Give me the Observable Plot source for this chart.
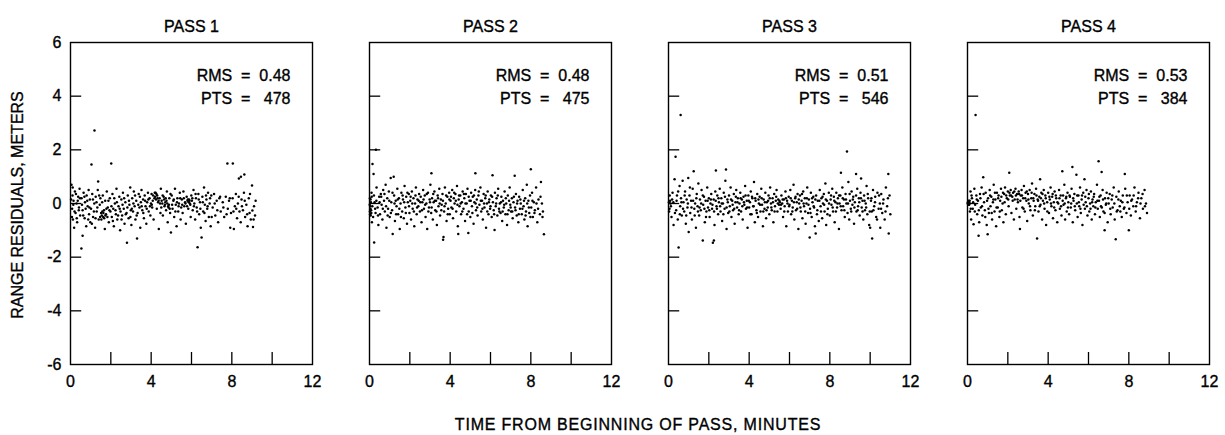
<!DOCTYPE html>
<html>
<head>
<meta charset="utf-8">
<script src="https://cdn.jsdelivr.net/npm/d3@7"></script>
<script src="https://cdn.jsdelivr.net/npm/@observablehq/plot@0.6"></script>
<style>
  html, body { margin: 0; padding: 0; background: #fff; }
  #wrap { position: relative; width: 1225px; height: 435px; font-family: "Liberation Sans", Arial, sans-serif; color: #000; }
  #wrap svg text { stroke: #000; stroke-width: 0.35px; }
  #ylab { position: absolute; left: 18px; top: 205px; transform: translate(-50%, -50%) rotate(-90deg); white-space: nowrap; font-size: 16px; -webkit-text-stroke: 0.35px #000; }
  #xlab { position: absolute; left: 638px; top: 425px; transform: translate(-50%, -50%); white-space: nowrap; font-size: 16px; letter-spacing: 0.8px; -webkit-text-stroke: 0.35px #000; }
</style>
</head>
<body>
<div id="wrap">
  <div id="chart"></div>
  <div id="ylab">RANGE RESIDUALS, METERS</div>
  <div id="xlab">TIME FROM BEGINNING OF PASS, MINUTES</div>
</div>
<script>
// ---- data (time in minutes, residual in meters) ----
const passes = ["PASS 1", "PASS 2", "PASS 3", "PASS 4"];
const rmsValues = ["0.48", "0.48", "0.51", "0.53"];
const ptsValues = ["478", "475", "546", "384"];
const xTickLabels = [0, 4, 8, 12];
const xTickMarks = [2, 4, 6, 8, 10];
const yTickLabels = [-6, -4, -2, 0, 2, 4, 6];
const yTickMarks = [-4, -2, 0, 2, 4];

const pass1 = [
[0.05,0.7],[0.08,-0.2],[0.1,0.3],[0.12,-0.6],[0.15,0.1],[0.18,-0.9],[0.22,0.45],[0.25,-0.35],[0.3,0.0],[0.33,-0.7],[0.38,0.25],[0.42,-0.15],[0.45,0.55],[0.48,-0.45],
[0.54,-1.68],[0.6,-1.2],[0.55,0.2],[0.6,-0.25],[0.65,0.4],[0.7,-0.55],[0.72,0.05],[0.78,-0.85],[0.8,0.3],[0.85,-0.1],[0.9,0.5],[0.92,-0.4],[0.96,0.15],[0.98,-0.7],
[1.04,1.45],[1.19,2.72],[1.37,0.82],[1.02,-0.2],[1.08,0.35],[1.12,-0.5],[1.18,0.0],[1.22,-0.9],[1.25,0.25],[1.3,-0.3],[1.35,0.5],[1.4,-0.6],[1.45,-0.05],[1.48,0.2],
[1.52,-0.35],[1.55,-0.45],[1.58,-0.3],[1.6,0.3],[1.62,-0.5],[1.66,-0.25],[1.7,-0.95],[1.72,0.1],[1.76,-0.4],[1.8,0.45],[1.85,-0.15],[1.9,-0.7],[1.95,0.2],[1.98,-0.3],
[2.02,1.49],[2.05,-0.5],[2.08,0.35],[2.12,-0.2],[2.15,-0.85],[2.2,0.0],[2.25,-0.4],[2.28,0.55],[2.32,-0.6],[2.38,-0.1],[2.42,0.25],[2.46,-1.0],[2.48,-0.3],
[2.52,0.15],[2.56,-0.45],[2.6,0.4],[2.64,-0.2],[2.68,-0.75],[2.72,0.05],[2.8,-1.46],[2.78,-0.35],[2.84,0.3],[2.88,-0.55],[2.92,-0.05],[2.96,0.6],[2.99,-0.25],
[3.02,-0.8],[3.06,0.2],[3.1,-0.3],[3.14,0.45],[3.18,-0.1],[3.22,-0.6],[3.26,0.1],[3.3,-1.3],[3.33,-0.35],[3.38,0.35],[3.42,-0.15],[3.46,-0.9],[3.49,0.05],
[3.52,0.5],[3.56,-0.25],[3.6,0.15],[3.64,-0.55],[3.68,0.3],[3.72,-0.1],[3.76,-0.75],[3.8,0.05],[3.84,0.4],[3.88,-0.3],[3.92,0.2],[3.96,-0.45],[3.99,0.0],
[4.02,0.35],[4.05,-0.15],[4.08,0.1],[4.12,-0.6],[4.18,0.4],[4.2,0.25],[4.24,0.15],[4.28,-0.2],[4.3,0.3],[4.34,0.05],[4.38,-0.95],[4.42,0.2],[4.46,-0.35],[4.48,0.55],
[4.52,0.1],[4.55,0.0],[4.58,-0.45],[4.62,0.25],[4.66,-0.1],[4.7,0.05],[4.74,-0.25],[4.78,0.45],[4.82,-0.7],[4.86,-0.15],[4.9,0.2],[4.94,-0.35],[4.98,-1.08],
[5.02,0.3],[5.06,-0.2],[5.1,0.1],[5.14,-0.5],[5.18,0.55],[5.22,-0.05],[5.26,-0.85],[5.3,0.2],[5.34,-0.3],[5.38,0.0],[5.42,0.4],[5.46,-0.6],[5.49,-0.15],
[5.52,0.15],[5.56,-0.35],[5.6,0.45],[5.64,-0.1],[5.68,0.05],[5.72,-0.75],[5.76,0.25],[5.8,0.1],[5.84,-0.2],[5.88,0.15],[5.92,0.0],[5.96,-0.5],[5.99,0.3],
[6.02,0.1],[6.06,-0.25],[6.1,0.5],[6.14,0.0],[6.18,-0.6],[6.22,0.2],[6.26,-0.15],[6.3,-1.63],[6.34,0.35],[6.38,-0.4],[6.42,0.05],[6.46,-0.9],[6.5,-1.27],
[6.54,0.25],[6.58,-0.3],[6.62,0.6],[6.66,-0.05],[6.7,-0.65],[6.74,0.15],[6.78,-0.2],[6.82,0.4],[6.86,-0.5],[6.9,0.0],[6.95,-0.85],[6.98,0.3],
[7.05,-0.15],[7.12,0.35],[7.18,-0.45],[7.25,0.1],[7.32,-0.7],[7.38,0.2],[7.45,-0.3],
[7.55,0.05],[7.62,-0.5],[7.7,0.25],[7.78,1.49],[7.8,-0.2],[7.86,0.1],[7.92,-0.9],[7.96,-0.35],
[8.05,1.49],[8.04,0.2],[8.1,-0.95],[8.15,-0.1],[8.2,0.35],[8.26,-0.55],[8.3,0.0],[8.35,0.93],[8.38,-0.3],[8.45,1.0],[8.44,-0.7],[8.48,0.15],
[8.55,-0.25],[8.62,1.08],[8.6,0.4],[8.66,-0.5],[8.72,-0.05],[8.78,-0.85],[8.84,0.2],[8.88,-0.35],[8.94,-0.6],[9.0,0.67],[9.02,-0.26],[9.05,-0.88],[9.1,-0.1],[9.15,-0.45],
[0.03,0.15],[0.07,-0.5],[0.11,0.6],[0.14,-0.05],[0.2,-0.3],[0.27,0.35],[0.31,-0.55],[0.36,0.1],[0.41,-0.25],[0.47,0.2],[0.57,-0.05],[0.63,-0.45],[0.69,0.25],[0.75,-0.2],[0.83,0.1],[0.88,-0.6],[0.94,-0.15],
[1.06,-0.75],[1.11,0.15],[1.16,-0.3],[1.24,-0.55],[1.29,0.05],[1.33,-0.15],[1.42,0.3],[1.47,-0.5],[1.53,-0.6],[1.57,0.05],[1.63,-0.35],[1.67,-0.55],[1.73,-0.45],[1.78,-0.2],[1.83,-0.5],[1.88,0.1],[1.93,-0.25],
[2.03,-0.1],[2.1,-0.65],[2.17,0.2],[2.23,-0.25],[2.3,0.05],[2.36,-0.45],[2.44,-0.2],[2.53,-0.6],[2.58,-0.05],[2.66,0.2],[2.74,-0.4],[2.82,-0.15],[2.9,0.1],[2.97,-0.5],
[3.04,-0.2],[3.12,0.0],[3.2,0.3],[3.28,-0.45],[3.36,-0.05],[3.44,0.25],[3.53,-0.1],[3.61,-0.35],[3.7,0.1],[3.78,-0.2],[3.86,0.15],[3.94,-0.1],
[4.03,-0.05],[4.1,0.3],[4.16,0.2],[4.22,0.4],[4.26,0.35],[4.32,0.2],[4.37,0.1],[4.44,0.0],[4.5,-0.15],[4.57,0.3],[4.64,0.15],[4.68,-0.05],[4.72,0.2],[4.76,0.1],[4.8,0.0],[4.84,-0.1],[4.88,-0.05],[4.92,-0.2],[4.96,0.35],
[5.04,-0.05],[5.12,0.15],[5.2,-0.3],[5.28,0.05],[5.36,-0.1],[5.44,0.2],[5.54,-0.05],[5.62,0.2],[5.7,0.0],[5.78,-0.1],[5.82,0.15],[5.86,0.05],[5.9,0.1],[5.94,-0.05],
[6.04,0.2],[6.12,-0.1],[6.2,0.35],[6.28,-0.3],[6.36,0.15],[6.44,-0.2],[6.56,0.05],[6.64,-0.35],[6.72,0.3],[6.8,-0.1],[6.92,0.2],[7.0,-0.5],[7.15,0.0],[7.28,-0.25],[7.42,0.25],[7.58,-0.15],[7.74,-0.4],[7.9,0.2],
[8.08,-0.3],[8.22,-0.2],[8.34,0.25],[8.5,-0.1],[8.64,0.1],[8.76,-0.4],[8.9,0.35],[9.08,-0.6],[9.18,0.1]
];

const pass2 = [
[0.02,-0.3],[0.04,-0.1],[0.05,0.15],[0.06,-0.45],[0.08,-0.25],[0.1,0.4],[0.12,-0.7],[0.15,1.47],[0.2,1.1],[0.23,-1.45],[0.25,0.05],[0.3,-0.35],[0.32,2.0],[0.35,0.6],[0.4,-0.15],[0.44,-0.8],[0.48,0.25],
[0.52,-0.4],[0.56,0.35],[0.6,-0.05],[0.64,-0.6],[0.68,0.5],[0.72,0.1],[0.76,-0.3],[0.8,0.7],[0.84,-0.9],[0.88,0.2],[0.92,-0.2],[0.96,0.45],
[1.0,-0.5],[1.05,0.95],[1.08,0.05],[1.12,-0.25],[1.15,-1.14],[1.2,1.0],[1.22,0.3],[1.26,-0.65],[1.3,0.1],[1.34,-0.1],[1.38,0.55],[1.42,-0.4],[1.46,0.2],
[1.5,-0.95],[1.54,0.0],[1.58,0.4],[1.62,-0.3],[1.66,0.15],[1.7,-0.55],[1.74,0.65],[1.78,-0.15],[1.82,0.25],[1.86,-0.75],[1.9,0.05],[1.95,0.35],[1.98,-0.35],
[2.02,0.1],[2.06,-0.6],[2.1,0.45],[2.14,-0.2],[2.18,0.2],[2.22,-0.85],[2.26,0.0],[2.3,0.6],[2.34,-0.4],[2.38,0.15],[2.42,-0.1],[2.46,0.35],
[2.5,-0.3],[2.54,0.25],[2.58,-0.7],[2.62,0.05],[2.66,0.5],[2.7,-0.2],[2.74,0.3],[2.78,-0.5],[2.82,0.0],[2.86,-0.95],[2.9,0.4],[2.95,-0.15],[2.98,0.15],
[3.02,0.7],[3.07,1.13],[3.06,-0.35],[3.1,0.2],[3.14,-0.6],[3.18,0.05],[3.22,0.45],[3.26,-0.25],[3.3,0.1],[3.34,-0.8],[3.38,0.3],[3.42,-0.1],[3.46,0.55],
[3.5,-0.45],[3.54,0.15],[3.58,-0.05],[3.62,0.35],[3.65,-1.35],[3.67,-1.25],[3.7,-0.3],[3.74,0.6],[3.78,0.0],[3.82,-0.65],[3.86,0.25],[3.9,-0.2],[3.95,0.4],[3.98,-0.4],
[4.02,0.1],[4.06,-0.15],[4.1,0.5],[4.14,-0.55],[4.18,0.2],[4.22,0.0],[4.26,0.35],[4.3,-0.3],[4.34,0.65],[4.38,-0.85],[4.4,-1.14],[4.42,0.15],[4.46,-0.1],
[4.5,0.3],[4.54,-0.4],[4.58,0.05],[4.62,0.45],[4.66,-0.2],[4.7,0.2],[4.74,-0.65],[4.78,0.35],[4.82,0.0],[4.86,0.55],[4.9,-1.1],[4.92,-0.3],[4.96,0.1],
[5.0,-0.5],[5.04,0.4],[5.08,-0.1],[5.12,0.25],[5.16,-0.75],[5.2,0.05],[5.25,1.13],[5.24,0.5],[5.28,-0.25],[5.32,0.15],[5.36,-0.45],[5.4,0.3],[5.45,-0.05],
[5.5,0.6],[5.54,-0.3],[5.58,0.1],[5.62,-0.6],[5.66,0.35],[5.7,-0.15],[5.74,0.2],[5.78,-0.9],[5.82,0.0],[5.86,0.45],[5.9,-0.4],[5.94,0.15],[5.98,-0.2],
[6.02,0.3],[6.06,-0.5],[6.1,1.05],[6.12,0.05],[6.16,-0.25],[6.2,-0.99],[6.22,0.4],[6.26,-0.1],[6.3,0.2],[6.34,-0.45],[6.38,0.55],[6.42,-0.2],[6.46,0.0],
[6.5,-0.35],[6.54,0.25],[6.58,-0.65],[6.62,0.1],[6.66,-0.15],[6.7,0.45],[6.74,-0.4],[6.78,0.0],[6.82,-0.8],[6.86,0.3],[6.9,-0.25],[6.95,0.6],[6.98,-0.05],
[7.02,-0.3],[7.06,0.2],[7.1,-0.55],[7.14,0.05],[7.2,1.03],[7.22,-0.15],[7.26,0.35],[7.3,-0.45],[7.34,0.1],[7.38,-0.7],[7.42,0.25],[7.46,-0.2],
[7.5,0.0],[7.55,-0.4],[7.6,0.5],[7.64,-0.1],[7.68,-0.6],[7.72,0.2],[7.76,-0.3],[7.8,0.7],[7.84,-0.85],[7.88,0.1],[7.92,-0.35],[7.96,0.3],
[8.0,1.28],[8.02,-0.15],[8.06,0.4],[8.1,-0.5],[8.15,0.05],[8.2,-0.25],[8.26,0.6],[8.32,-0.7],[8.38,0.15],[8.45,-0.4],[8.5,0.8],[8.55,0.0],[8.6,-0.3],[8.65,-1.15],
[0.01,-0.05],[0.02,0.2],[0.03,-0.4],[0.05,-0.2],[0.07,0.05],[0.09,-0.35],[0.11,0.25],[0.14,-0.1],[0.18,-0.5],[0.22,0.3],[0.28,-0.2],[0.34,0.1],[0.42,-0.45],[0.5,0.05],[0.58,0.25],[0.66,-0.2],[0.74,0.35],[0.82,-0.1],[0.9,-0.45],[0.98,0.1],
[1.06,-0.35],[1.14,0.4],[1.24,0.0],[1.32,-0.4],[1.4,0.15],[1.48,-0.2],[1.56,-0.5],[1.64,0.3],[1.72,0.05],[1.8,-0.35],[1.88,0.4],[1.96,-0.1],
[2.04,0.25],[2.12,0.0],[2.2,-0.3],[2.28,0.3],[2.36,-0.15],[2.44,0.1],[2.52,0.05],[2.6,-0.25],[2.68,0.15],[2.76,-0.05],[2.84,0.35],[2.92,-0.3],
[3.0,0.05],[3.08,-0.15],[3.16,0.35],[3.24,0.1],[3.32,-0.3],[3.4,0.2],[3.48,0.0],[3.56,-0.25],[3.64,0.1],[3.72,-0.1],[3.8,0.3],[3.88,-0.4],[3.96,0.15],
[4.04,0.25],[4.12,-0.2],[4.2,0.4],[4.28,0.1],[4.36,-0.05],[4.44,0.3],[4.52,0.0],[4.6,-0.3],[4.68,0.35],[4.76,0.0],[4.84,-0.4],[4.92,0.25],
[5.02,0.1],[5.1,-0.35],[5.18,0.3],[5.26,0.0],[5.34,-0.15],[5.42,0.45],[5.52,0.1],[5.6,-0.2],[5.68,0.0],[5.76,0.3],[5.84,-0.3],[5.92,0.05],
[6.0,-0.1],[6.08,0.25],[6.18,-0.4],[6.28,0.0],[6.36,0.3],[6.44,-0.3],[6.52,0.05],[6.6,-0.3],[6.68,-0.05],[6.76,0.2],[6.84,-0.4],[6.92,0.1],
[7.0,-0.15],[7.08,-0.3],[7.16,0.25],[7.24,-0.25],[7.32,0.0],[7.4,-0.4],[7.48,0.15],[7.58,-0.2],[7.66,0.1],[7.74,-0.45],[7.82,0.0],[7.9,-0.15],[7.98,-0.5],
[8.08,0.1],[8.18,-0.35],[8.28,0.0],[8.36,-0.2],[8.48,0.25],[8.58,-0.5]
];

const pass3 = [
[0.02,0.05],[0.05,-0.2],[0.08,0.1],[0.1,0.0],[0.15,-0.5],[0.2,0.4],[0.25,-0.8],[0.3,0.9],[0.35,1.74],[0.38,-0.25],[0.42,0.3],[0.46,-0.6],[0.5,-1.64],[0.6,3.3],
[0.55,0.65],[0.58,-0.1],[0.62,0.2],[0.66,-0.45],[0.7,0.85],[0.74,0.05],[0.78,-0.3],[0.82,0.45],[0.86,-0.75],[0.9,0.15],[0.94,-0.15],[0.98,0.95],
[1.0,-1.06],[1.04,0.3],[1.08,-0.35],[1.12,0.1],[1.16,-0.6],[1.2,0.55],[1.25,1.2],[1.28,-0.2],[1.32,0.0],[1.36,-0.9],[1.4,0.35],[1.44,-0.1],[1.48,0.75],
[1.52,-0.45],[1.56,0.15],[1.6,-0.25],[1.64,0.5],[1.7,-1.38],[1.72,-0.05],[1.76,0.25],[1.8,-0.7],[1.84,0.1],[1.88,-0.3],[1.92,0.6],[1.96,-0.15],
[2.0,0.2],[2.04,-0.5],[2.08,0.0],[2.12,0.35],[2.16,-0.2],[2.2,-1.46],[2.25,-1.38],[2.24,0.15],[2.28,-0.8],[2.32,0.45],[2.35,1.23],[2.38,-0.1],[2.42,0.3],[2.46,-0.4],
[2.5,0.05],[2.54,0.55],[2.58,-0.3],[2.62,0.2],[2.66,-0.65],[2.7,0.0],[2.74,0.4],[2.78,-0.2],[2.82,0.85],[2.85,1.27],[2.88,-0.95],[2.92,0.15],[2.96,-0.35],
[3.0,0.3],[3.04,-0.1],[3.08,0.6],[3.12,-0.5],[3.16,0.1],[3.2,-0.25],[3.24,0.35],[3.28,-0.75],[3.32,0.05],[3.36,0.5],[3.4,-0.15],[3.44,0.2],[3.48,-0.4],
[3.52,0.0],[3.56,0.4],[3.6,-0.3],[3.64,0.15],[3.68,-0.6],[3.72,0.25],[3.76,-0.05],[3.8,0.65],[3.84,-0.2],[3.88,0.1],[3.92,-0.9],[3.96,0.3],
[4.0,-0.15],[4.04,0.05],[4.08,0.45],[4.12,-0.4],[4.16,0.2],[4.2,-0.1],[4.24,0.8],[4.28,-0.7],[4.32,0.1],[4.36,-0.25],[4.4,0.35],[4.44,-0.5],[4.48,0.0],
[4.52,0.25],[4.56,-0.3],[4.6,0.55],[4.64,-0.05],[4.68,-0.85],[4.72,0.15],[4.76,-0.2],[4.8,0.4],[4.84,-0.55],[4.88,0.05],[4.92,-0.15],[4.96,0.3],
[5.0,-0.4],[5.04,0.6],[5.08,0.0],[5.12,-0.25],[5.16,0.2],[5.2,-0.7],[5.24,0.35],[5.28,-0.1],[5.32,0.1],[5.36,0.5],[5.4,-0.3],[5.44,0.15],[5.48,-0.05],
[5.52,0.05],[5.56,-0.2],[5.6,0.3],[5.64,0.0],[5.68,-0.5],[5.72,0.15],[5.76,-0.1],[5.8,0.45],[5.84,-0.85],[5.88,0.1],[5.92,-0.3],[5.96,0.25],
[6.0,-0.05],[6.04,0.5],[6.08,-0.4],[6.12,0.1],[6.16,-0.15],[6.2,0.7],[6.24,-0.6],[6.28,0.2],[6.32,-0.25],[6.36,0.05],[6.4,0.35],[6.44,-0.95],[6.48,0.0],
[6.52,0.3],[6.56,-0.3],[6.6,0.1],[6.64,-0.55],[6.68,0.45],[6.72,-0.1],[6.76,0.2],[6.8,-0.75],[6.84,0.0],[6.88,0.6],[6.92,-0.35],[6.96,0.15],[7.0,-1.27],
[7.02,-0.2],[7.06,0.4],[7.1,-0.5],[7.14,0.05],[7.18,0.25],[7.22,-0.15],[7.26,-0.85],[7.3,-1.12],[7.32,0.3],[7.36,-0.4],[7.4,0.1],[7.45,-0.65],
[7.5,0.5],[7.54,-0.1],[7.58,0.2],[7.62,-0.55],[7.66,0.0],[7.7,0.35],[7.74,-0.3],[7.78,0.75],[7.82,-0.8],[7.86,0.1],[7.9,-0.2],[7.95,0.4],
[8.0,-0.45],[8.04,0.15],[8.08,-0.05],[8.12,0.55],[8.16,-0.3],[8.2,0.25],[8.24,-0.7],[8.28,0.05],[8.32,0.4],[8.36,-0.15],[8.4,0.2],[8.45,-0.95],[8.48,0.0],
[8.52,0.3],[8.55,1.15],[8.58,-0.25],[8.62,0.6],[8.66,-0.1],[8.7,0.15],[8.74,-0.5],[8.78,0.35],[8.82,0.0],[8.85,1.94],[8.88,-0.35],[8.92,0.8],[8.96,-0.6],
[9.0,0.1],[9.04,-0.2],[9.08,0.45],[9.12,-0.05],[9.16,0.25],[9.2,-0.75],[9.24,0.05],[9.3,1.1],[9.32,-0.3],[9.36,0.55],[9.4,-0.1],[9.44,0.2],[9.48,-0.45],
[9.52,0.4],[9.55,0.93],[9.58,-0.15],[9.62,0.1],[9.66,-0.6],[9.7,0.3],[9.74,-0.25],[9.78,0.0],[9.82,0.65],[9.86,-0.4],[9.9,0.2],[9.95,-0.8],
[10.0,-0.9],[10.04,0.1],[10.08,-0.3],[10.1,-1.3],[10.14,0.5],[10.2,-0.1],[10.25,0.25],[10.3,-0.5],[10.36,0.4],[10.42,-0.2],[10.48,0.0],[10.5,-0.9],
[10.55,0.35],[10.6,-0.35],[10.66,0.15],[10.72,-0.6],[10.78,0.6],[10.84,-0.1],[10.9,1.1],[10.92,-1.12],[10.96,0.3],[11.0,-0.4],
[0.03,-0.3],[0.06,0.3],[0.12,-0.1],[0.18,0.15],[0.24,0.05],[0.32,-0.35],[0.4,0.1],[0.48,0.45],[0.56,-0.4],[0.64,0.05],[0.72,-0.2],[0.8,0.3],[0.88,-0.45],[0.96,0.0],
[1.06,0.6],[1.14,-0.15],[1.22,0.1],[1.3,-0.45],[1.38,0.2],[1.46,-0.3],[1.54,-0.15],[1.62,0.0],[1.7,0.3],[1.78,-0.2],[1.86,-0.5],[1.94,0.1],
[2.02,-0.25],[2.1,0.15],[2.18,-0.05],[2.26,-0.3],[2.34,0.1],[2.4,-0.2],[2.48,0.2],[2.56,-0.1],[2.64,0.0],[2.72,-0.4],[2.8,0.25],[2.88,-0.15],[2.94,0.05],
[3.02,-0.3],[3.1,0.15],[3.18,-0.05],[3.26,-0.2],[3.34,0.25],[3.42,0.05],[3.5,-0.25],[3.58,0.2],[3.66,-0.1],[3.74,0.05],[3.82,0.3],[3.9,-0.15],[3.98,0.1],
[4.06,-0.4],[4.14,0.25],[4.22,-0.1],[4.3,0.2],[4.38,-0.35],[4.46,0.15],[4.54,-0.05],[4.62,0.2],[4.7,-0.3],[4.78,0.05],[4.86,-0.25],[4.94,0.1],
[5.02,0.2],[5.1,-0.15],[5.18,0.05],[5.26,-0.3],[5.34,0.25],[5.42,0.0],[5.5,0.1],[5.58,-0.05],[5.66,0.15],[5.74,-0.3],[5.82,0.2],[5.9,0.0],[5.98,-0.1],
[6.06,0.2],[6.14,-0.3],[6.22,0.05],[6.3,0.25],[6.38,-0.2],[6.46,0.15],[6.54,-0.15],[6.62,0.35],[6.7,0.0],[6.78,-0.3],[6.86,0.2],[6.94,-0.05],
[7.04,-0.35],[7.12,0.2],[7.2,-0.1],[7.28,0.15],[7.38,-0.25],[7.48,0.1],[7.56,-0.3],[7.64,0.25],[7.72,-0.05],[7.8,0.15],[7.88,-0.4],[7.96,0.0],
[8.06,0.3],[8.14,-0.15],[8.22,0.1],[8.3,-0.3],[8.38,0.0],[8.46,0.3],[8.54,-0.1],[8.64,0.2],[8.72,-0.25],[8.8,0.15],[8.9,0.0],[8.98,0.35],
[9.06,-0.3],[9.14,0.15],[9.22,-0.15],[9.3,0.3],[9.38,-0.25],[9.46,0.05],[9.54,0.2],[9.62,-0.3],[9.72,0.1],[9.8,-0.15],[9.88,0.35],[9.98,-0.3],
[10.06,0.2],[10.16,-0.25],[10.24,0.05],[10.34,-0.6],[10.44,0.3],[10.54,-0.2],[10.64,0.0],[10.76,-0.3],[10.88,0.2]
];

const pass4 = [
[0.02,0.05],[0.04,0.0],[0.06,0.1],[0.08,-0.05],[0.1,0.02],[0.12,-0.3],[0.15,0.45],[0.18,-0.6],[0.22,0.2],[0.26,-0.2],[0.3,-0.77],[0.34,0.55],[0.38,-0.05],[0.4,3.3],[0.44,0.3],[0.48,-0.4],
[0.55,-1.2],[0.52,0.1],[0.58,-0.7],[0.62,0.35],[0.66,-0.15],[0.7,0.6],[0.74,-0.45],[0.78,0.98],[0.82,0.05],[0.86,-0.25],[0.9,0.4],[0.95,-0.8],
[1.0,-1.15],[1.02,0.2],[1.06,-0.35],[1.1,0.5],[1.14,-0.1],[1.18,0.25],[1.22,-0.6],[1.26,0.05],[1.3,0.7],[1.34,-0.3],[1.38,0.15],[1.42,-0.85],[1.46,0.4],
[1.5,-0.15],[1.54,0.3],[1.58,-0.5],[1.62,0.1],[1.66,0.55],[1.7,-0.25],[1.74,0.0],[1.78,-0.7],[1.82,0.35],[1.86,0.6],[1.9,-0.4],[1.95,0.2],
[2.0,0.45],[2.04,-0.1],[2.07,1.15],[2.1,0.3],[2.14,0.5],[2.18,-0.35],[2.22,0.25],[2.26,0.4],[2.3,-0.6],[2.34,0.15],[2.38,0.55],[2.42,-0.2],[2.46,0.35],
[2.5,0.05],[2.54,0.45],[2.58,-0.5],[2.6,-0.95],[2.64,0.3],[2.68,0.5],[2.72,-0.15],[2.76,0.2],[2.8,0.65],[2.84,-0.3],[2.88,0.4],[2.92,0.1],[2.96,-0.65],
[3.0,0.35],[3.04,0.0],[3.08,0.5],[3.12,-0.25],[3.16,0.2],[3.2,0.75],[3.24,-0.45],[3.28,0.1],[3.32,0.35],[3.36,-0.1],[3.4,0.55],[3.45,-1.3],[3.48,0.15],
[3.52,-0.3],[3.56,0.25],[3.6,0.9],[3.62,-0.05],[3.66,0.4],[3.7,-0.6],[3.74,0.1],[3.78,0.5],[3.82,-0.2],[3.86,0.3],[3.9,-0.8],[3.95,0.05],
[4.0,0.4],[4.04,-0.35],[4.08,0.15],[4.12,0.6],[4.16,-0.1],[4.2,0.25],[4.24,-0.55],[4.28,0.05],[4.32,0.45],[4.36,-0.25],[4.4,0.2],[4.45,-0.7],
[4.5,0.0],[4.54,0.5],[4.58,-0.2],[4.62,0.3],[4.66,-0.45],[4.7,1.2],[4.72,0.1],[4.76,-0.05],[4.8,0.7],[4.84,-0.6],[4.88,0.2],[4.92,-0.3],[4.96,0.4],
[5.0,0.05],[5.04,-0.4],[5.08,0.25],[5.12,-0.15],[5.16,0.55],[5.2,1.36],[5.22,-0.7],[5.26,0.1],[5.3,0.35],[5.34,-0.25],[5.4,1.07],[5.42,0.0],[5.46,-0.5],
[5.5,0.3],[5.54,-0.1],[5.58,0.6],[5.62,-0.35],[5.66,0.15],[5.7,-0.8],[5.74,0.4],[5.8,0.9],[5.82,-0.2],[5.86,0.05],[5.9,0.5],[5.95,-0.45],
[6.0,0.2],[6.04,-0.3],[6.08,0.0],[6.12,0.45],[6.16,-0.6],[6.2,0.15],[6.24,-0.1],[6.28,0.35],[6.32,-0.4],[6.36,0.05],[6.42,0.7],[6.46,-0.2],[6.5,1.57],
[6.52,0.1],[6.56,-0.5],[6.6,0.3],[6.65,1.17],[6.66,-0.15],[6.7,0.5],[6.74,-0.3],[6.8,-1.0],[6.82,0.2],[6.86,-0.05],[6.9,0.4],[6.95,-0.7],
[7.0,0.0],[7.05,0.35],[7.1,-0.4],[7.15,0.15],[7.2,-0.15],[7.25,0.6],[7.3,-0.6],[7.35,-1.33],[7.38,0.25],[7.44,-0.25],
[7.5,0.45],[7.55,-0.1],[7.6,0.1],[7.65,-0.5],[7.7,0.3],[7.75,-0.2],[7.8,1.1],[7.82,0.55],[7.88,-0.35],[7.94,0.05],[8.0,-1.0],
[8.04,0.3],[8.1,-0.45],[8.16,0.15],[8.22,-0.1],[8.28,0.6],[8.34,-0.3],[8.4,0.05],[8.48,0.4],[8.55,-0.55],[8.62,0.2],[8.7,-0.2],[8.78,0.5],[8.85,0.0],[8.9,-0.35],
[0.01,0.0],[0.03,-0.05],[0.05,0.05],[0.07,0.02],[0.09,-0.02],[0.11,0.1],[0.16,-0.2],[0.2,0.3],[0.28,0.05],[0.36,-0.3],[0.46,0.15],[0.56,-0.25],[0.64,0.2],[0.72,-0.1],[0.8,0.35],[0.88,-0.5],[0.97,0.1],
[1.04,-0.2],[1.12,0.3],[1.2,-0.35],[1.28,0.15],[1.36,0.4],[1.44,-0.15],[1.52,0.2],[1.6,-0.3],[1.68,0.25],[1.76,0.4],[1.84,0.05],[1.92,0.3],
[2.02,0.15],[2.08,0.4],[2.16,0.3],[2.24,0.1],[2.32,0.45],[2.4,0.3],[2.48,0.15],[2.56,0.35],[2.62,0.1],[2.7,0.3],[2.78,-0.2],[2.86,0.2],[2.94,0.45],
[3.02,0.15],[3.1,-0.1],[3.18,0.4],[3.26,0.2],[3.34,-0.25],[3.42,0.3],[3.5,0.1],[3.58,-0.1],[3.64,0.2],[3.72,0.35],[3.8,0.0],[3.88,0.2],[3.96,-0.3],
[4.06,0.25],[4.14,0.0],[4.22,0.35],[4.3,-0.15],[4.38,0.3],[4.46,0.05],[4.56,0.2],[4.64,-0.1],[4.74,0.3],[4.82,0.0],[4.9,0.25],[4.98,-0.15],
[5.06,0.3],[5.14,0.0],[5.24,0.2],[5.32,-0.1],[5.44,0.3],[5.52,0.05],[5.6,-0.2],[5.68,0.3],[5.76,-0.05],[5.84,0.25],[5.92,-0.1],
[6.02,0.35],[6.1,-0.2],[6.18,0.05],[6.26,0.25],[6.34,-0.15],[6.44,0.1],[6.54,0.25],[6.62,-0.1],[6.72,0.15],[6.8,-0.35],[6.88,0.0],[6.98,0.2],
[7.08,-0.2],[7.18,0.3],[7.28,0.0],[7.4,-0.3],[7.48,0.15],[7.58,-0.3],[7.68,0.05],[7.78,-0.15],[7.9,0.3],
[8.02,-0.2],[8.12,0.1],[8.24,0.3],[8.36,-0.1],[8.46,0.2],[8.58,0.0],[8.68,0.35],[8.8,-0.1]
];

// ---- build tables for Plot ----
const series = [pass1, pass2, pass3, pass4];
const points = series.flatMap((arr, i) => arr.map(([t, v]) => ({pass: passes[i], t, v})));
const nb = "\u00a0";
const notes = passes.map((p, i) => ({
  pass: p,
  rms: `RMS${nb}${nb}=${nb}${nb}${rmsValues[i]}`,
  pts: `PTS${nb}${nb}=${nb}${nb}${nb}${ptsValues[i]}`
}));

const W = 1225, H = 435, mL = 69, mR = 14, mT = 42, mB = 71;
const padIn = 0.19;
const band = d3.scaleBand().domain(passes).range([mL, W - mR]).paddingInner(padIn).paddingOuter(0).bandwidth();
const frameH = H - mT - mB;
const tickLen = 12;
const font = "'Liberation Sans', Arial, sans-serif";

const chart = Plot.plot({
  width: W, height: H,
  marginLeft: mL, marginRight: mR, marginTop: mT, marginBottom: mB,
  style: {fontFamily: font, fontSize: "16px", color: "#000", background: "#fff", overflow: "visible"},
  fx: {domain: passes, paddingInner: padIn, paddingOuter: 0, label: null},
  x: {domain: [0, 12], label: null},
  y: {domain: [-6, 6], label: null},
  marks: [
    Plot.axisFx({anchor: "top", label: null, tickSize: 0, tickPadding: 11, fontSize: 16}),
    Plot.axisX(xTickLabels, {anchor: "bottom", tickSize: 0, tickPadding: 11, label: null, fontSize: 16, tickFormat: d => String(d)}),
    Plot.axisY(yTickLabels, {anchor: "left", tickSize: 0, tickPadding: 9, label: null, fontSize: 16, tickFormat: d => String(d)}),
    Plot.tickX(xTickMarks, {x: d => d, insetTop: frameH - tickLen, stroke: "#000", strokeWidth: 1.3}),
    Plot.tickY(yTickMarks, {y: d => d, insetRight: band - tickLen, stroke: "#000", strokeWidth: 1.3}),
    Plot.dot(points, {x: "t", y: "v", fx: "pass", r: 1.25, fill: "#000"}),
    Plot.text(notes, {fx: "pass", text: "rms", frameAnchor: "top-right", textAnchor: "end", dx: -22, dy: 27, fontSize: 16, fill: "#000"}),
    Plot.text(notes, {fx: "pass", text: "pts", frameAnchor: "top-right", textAnchor: "end", dx: -22, dy: 50, fontSize: 16, fill: "#000"}),
    Plot.frame({stroke: "#000", strokeWidth: 1.4})
  ]
});
document.getElementById("chart").appendChild(chart);
</script>
</body>
</html>
